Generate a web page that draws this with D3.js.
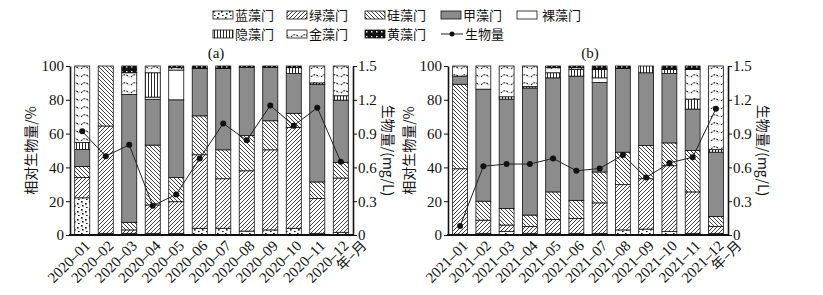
<!DOCTYPE html>
<html>
<head>
<meta charset="utf-8">
<script src="https://cdn.jsdelivr.net/npm/d3@7"></script>
<style>
  body { margin: 0; background: #fff; }
  svg text { fill: #111; }
  .num { font-family: "Liberation Serif", "DejaVu Serif", serif; font-size: 15px; }
  .cjk { font-family: "Noto Sans CJK SC", sans-serif; font-size: 14px; }
  .leg { font-family: "Noto Sans CJK SC", sans-serif; font-size: 13px; }
  .axis path, .axis line { stroke: #111; }
</style>
</head>
<body>
<div id="chart"></div>
<script>
// categories
var months_a = ["2020–01","2020–02","2020–03","2020–04","2020–05","2020–06","2020–07","2020–08","2020–09","2020–10","2020–11","2020–12"];
var months_b = ["2021–01","2021–02","2021–03","2021–04","2021–05","2021–06","2021–07","2021–08","2021–09","2021–10","2021–11","2021–12"];
var keys = ["蓝藻门","绿藻门","硅藻门","甲藻门","裸藻门","隐藻门","金藻门","黄藻门"];

// relative biomass (%), panel (a) 2020
var lan_a   = [22, 1, 1, 1, 1, 4, 4, 2.3, 3, 4, 1, 1.6];
var lv_a    = [12, 63.5, 2, 16.8, 18.7, 43.5, 29.3, 35.7, 47.4, 59.7, 20.6, 32.1];
var gui_a   = [6.6, 35.5, 4.5, 35.4, 14.3, 23, 17.1, 20.8, 17.2, 8.3, 9.8, 9.3];
var jia_a   = [10, 0, 75.7, 27.1, 46, 28, 48.1, 40.4, 31.6, 23.5, 57.6, 36.8];
var luo_a   = [0, 0, 0, 1.3, 17.6, 0, 0, 0, 0, 0, 0, 0];
var yin_a   = [4.2, 0, 0, 14.4, 0, 0, 0, 0, 0, 3.5, 1, 2.6];
var jin_a   = [45.2, 0, 12.8, 4, 1.4, 0, 0, 0, 0, 0, 10, 17.6];
var huang_a = [0, 0, 4, 0, 1, 1.5, 1.5, 0.8, 0.8, 1, 0, 0];
var bio_a   = [0.92, 0.70, 0.80, 0.26, 0.36, 0.68, 0.99, 0.84, 1.15, 0.97, 1.13, 0.65];

// relative biomass (%), panel (b) 2021
var lan_b   = [0.5, 1, 2, 1, 1, 1, 1, 3, 3.5, 2, 1, 1];
var lv_b    = [38.7, 7.8, 3.9, 4, 8.2, 8.8, 18, 26.8, 29.8, 39, 24.5, 4];
var gui_b   = [50, 11.2, 9.8, 6.8, 16.3, 10.7, 18.3, 19.2, 19.7, 13.5, 24.5, 6];
var jia_b   = [4.8, 66.3, 64.7, 75.2, 67.5, 73.5, 52.9, 49.5, 43, 41, 24.5, 38];
var luo_b   = [0, 0, 0, 0, 0, 0, 2.8, 0, 0, 0, 0, 0];
var yin_b   = [0, 0, 1.4, 0.8, 3, 4, 5, 0, 4, 2.5, 5.9, 1.5];
var jin_b   = [6, 13.7, 18.2, 12.2, 3, 1, 0, 0, 0, 0, 17.6, 49.5];
var huang_b = [0, 0, 0, 0, 1, 1, 2, 1.5, 0, 2, 2, 0];
var bio_b   = [0.08, 0.61, 0.63, 0.63, 0.68, 0.57, 0.59, 0.71, 0.51, 0.64, 0.69, 1.12];

var ticks_left = [0, 20, 40, 60, 80, 100];
var ticks_right = [0, 0.3, 0.6, 0.9, 1.2, 1.5];

var W = 823, H = 295;
var top_y = 66, bot_y = 235;

function build_rows(months, series) {
  return months.map(function(m, i) {
    var r = { month: m };
    keys.forEach(function(k, j) { r[k] = series[j][i]; });
    return r;
  });
}

var rows_a = build_rows(months_a, [lan_a, lv_a, gui_a, jia_a, luo_a, yin_a, jin_a, huang_a]);
var rows_b = build_rows(months_b, [lan_b, lv_b, gui_b, jia_b, luo_b, yin_b, jin_b, huang_b]);

var svg = d3.select("#chart").append("svg")
  .attr("width", W).attr("height", H);

// patterns
var defs = svg.append("defs");

var p = defs.append("pattern").attr("id", "p_lan").attr("patternUnits", "userSpaceOnUse")
  .attr("width", 8).attr("height", 8);
p.append("rect").attr("width", 8).attr("height", 8).attr("fill", "#fff");
[[1,1],[5,3],[2,5],[6,7]].forEach(function(d) {
  p.append("rect").attr("x", d[0]).attr("y", d[1]).attr("width", 1.6).attr("height", 1.6).attr("fill", "#111");
});

p = defs.append("pattern").attr("id", "p_lv").attr("patternUnits", "userSpaceOnUse")
  .attr("width", 4).attr("height", 4);
p.append("rect").attr("width", 4).attr("height", 4).attr("fill", "#fff");
p.append("path").attr("d", "M-1,1 l2,-2 M0,4 l4,-4 M3,5 l2,-2").attr("stroke", "#111").attr("stroke-width", 0.8);

p = defs.append("pattern").attr("id", "p_gui").attr("patternUnits", "userSpaceOnUse")
  .attr("width", 4).attr("height", 4);
p.append("rect").attr("width", 4).attr("height", 4).attr("fill", "#fff");
p.append("path").attr("d", "M-1,3 l2,2 M0,0 l4,4 M3,-1 l2,2").attr("stroke", "#111").attr("stroke-width", 0.8);

p = defs.append("pattern").attr("id", "p_yin").attr("patternUnits", "userSpaceOnUse")
  .attr("width", 3).attr("height", 4);
p.append("rect").attr("width", 3).attr("height", 4).attr("fill", "#fff");
p.append("path").attr("d", "M1.5,0 V4").attr("stroke", "#111").attr("stroke-width", 0.9);

p = defs.append("pattern").attr("id", "p_jin").attr("patternUnits", "userSpaceOnUse")
  .attr("width", 10).attr("height", 8);
p.append("rect").attr("width", 10).attr("height", 8).attr("fill", "#fff");
p.append("path").attr("d", "M1,5 Q5,0.5 9,5").attr("fill", "none").attr("stroke", "#111")
  .attr("stroke-width", 1.1).attr("stroke-dasharray", "2,1");

p = defs.append("pattern").attr("id", "p_huang").attr("patternUnits", "userSpaceOnUse")
  .attr("width", 5).attr("height", 5);
p.append("rect").attr("width", 5).attr("height", 5).attr("fill", "#111");
p.append("rect").attr("x", 1).attr("y", 1).attr("width", 1.5).attr("height", 1.5).attr("fill", "#fff");

var fills = {
  "蓝藻门": "url(#p_lan)", "绿藻门": "url(#p_lv)", "硅藻门": "url(#p_gui)", "甲藻门": "#8c8c8c",
  "裸藻门": "#fff", "隐藻门": "url(#p_yin)", "金藻门": "url(#p_jin)", "黄藻门": "url(#p_huang)"
};

var stack = d3.stack().keys(keys);

function draw_panel(rows, bio, months, x0, x1, label, label_x) {
  var g = svg.append("g");

  var x = d3.scaleBand().domain(months).range([x0, x1])
    .paddingInner(0.36).paddingOuter(0.2);
  var y = d3.scaleLinear().domain([0, 100]).range([bot_y, top_y]);
  var y2 = d3.scaleLinear().domain([0, 1.5]).range([bot_y, top_y]);

  // stacked bars
  var layers = stack(rows);
  g.selectAll(".layer")
    .data(layers)
    .enter().append("g")
    .attr("class", "layer")
    .attr("fill", function(d) { return fills[d.key]; })
    .selectAll("rect")
    .data(function(d) { return d.filter(function(s) { return s[1] - s[0] > 0; }); })
    .enter().append("rect")
    .attr("x", function(d) { return x(d.data.month); })
    .attr("width", x.bandwidth())
    .attr("y", function(d) { return y(d[1]); })
    .attr("height", function(d) { return y(d[0]) - y(d[1]); })
    .attr("stroke", "#111")
    .attr("stroke-width", 0.8);

  // biomass line
  var line = d3.line()
    .x(function(d, i) { return x(months[i]) + x.bandwidth() / 2; })
    .y(function(d) { return y2(d); });
  g.append("path").datum(bio)
    .attr("d", line).attr("fill", "none")
    .attr("stroke", "#222").attr("stroke-width", 1);
  g.selectAll(".dot").data(bio).enter().append("circle")
    .attr("cx", function(d, i) { return x(months[i]) + x.bandwidth() / 2; })
    .attr("cy", function(d) { return y2(d); })
    .attr("r", 3).attr("fill", "#111");

  // axes
  var ax_l = g.append("g").attr("class", "axis num")
    .attr("transform", "translate(" + x0 + ",0)")
    .call(d3.axisLeft(y).tickValues(ticks_left).tickSize(4).tickSizeOuter(0).tickPadding(2));
  var ax_r = g.append("g").attr("class", "axis num")
    .attr("transform", "translate(" + x1 + ",0)")
    .call(d3.axisRight(y2).tickValues(ticks_right).tickSize(4).tickSizeOuter(0).tickPadding(1)
      .tickFormat(function(d) { return d === 0 ? "0" : d3.format(".1f")(d); }));
  [ax_l, ax_r].forEach(function(a) {
    a.attr("font-family", null).attr("font-size", null);
    a.select(".domain").attr("stroke-width", 1.6);
    a.selectAll("text").attr("fill", "#111");
  });

  g.append("line")
    .attr("x1", x0 - 1).attr("x2", x1 + 1)
    .attr("y1", bot_y).attr("y2", bot_y)
    .attr("stroke", "#111").attr("stroke-width", 2);

  // month labels
  g.selectAll(".mlab").data(months).enter().append("text")
    .attr("class", "num")
    .attr("text-anchor", "end")
    .attr("transform", function(d) {
      return "translate(" + (x(d) + x.bandwidth() / 2 + 5) + "," + (bot_y + 8) + ") rotate(-45)";
    })
    .attr("dy", "0.35em")
    .text(function(d) { return d; });
  g.append("text").attr("class", "cjk")
    .attr("text-anchor", "end")
    .attr("transform", "translate(" + (x1 + 11) + "," + (bot_y + 8) + ") rotate(-45)")
    .attr("dy", "0.35em")
    .text("年–月");

  // axis titles
  g.append("text").attr("class", "cjk")
    .attr("text-anchor", "middle")
    .attr("transform", "translate(" + (x0 - 39) + "," + ((top_y + bot_y) / 2) + ") rotate(-90)")
    .attr("dy", "0.35em")
    .text("相对生物量/%");
  g.append("text").attr("class", "cjk")
    .attr("text-anchor", "middle")
    .attr("transform", "translate(" + (x1 + 35) + "," + ((top_y + bot_y) / 2) + ") rotate(90)")
    .attr("dy", "0.35em")
    .text("生物量/(mg/L)");

  g.append("text").attr("class", "num")
    .attr("x", label_x).attr("y", top_y - 8)
    .attr("text-anchor", "middle")
    .text(label);
}

draw_panel(rows_a, bio_a, months_a, 70, 353, "(a)", 216);
draw_panel(rows_b, bio_b, months_b, 448, 728, "(b)", 590);

// legend
var leg_items = [
  { k: "蓝藻门", x: 213, y: 15 }, { k: "绿藻门", x: 287, y: 15 }, { k: "硅藻门", x: 365, y: 15 },
  { k: "甲藻门", x: 441, y: 15 }, { k: "裸藻门", x: 517, y: 15 },
  { k: "隐藻门", x: 213, y: 34 }, { k: "金藻门", x: 287, y: 34 }, { k: "黄藻门", x: 365, y: 34 }
];
var leg = svg.append("g");
leg.selectAll(".sw").data(leg_items).enter().append("rect")
  .attr("x", function(d) { return d.x; })
  .attr("y", function(d) { return d.y - 4; })
  .attr("width", 20).attr("height", 8)
  .attr("fill", function(d) { return fills[d.k]; })
  .attr("stroke", "#111").attr("stroke-width", 0.8);
leg.selectAll(".lt").data(leg_items).enter().append("text")
  .attr("class", "leg")
  .attr("x", function(d) { return d.x + (d.k === "裸藻门" ? 25 : 22); })
  .attr("y", function(d) { return d.y; })
  .attr("dy", "0.35em")
  .text(function(d) { return d.k; });
leg.append("line").attr("x1", 441).attr("x2", 463).attr("y1", 34).attr("y2", 34)
  .attr("stroke", "#222").attr("stroke-width", 1);
leg.append("circle").attr("cx", 452).attr("cy", 34).attr("r", 2.5).attr("fill", "#111");
leg.append("text").attr("class", "leg")
  .attr("x", 465).attr("y", 34).attr("dy", "0.35em")
  .text("生物量");
</script>
</body>
</html>
